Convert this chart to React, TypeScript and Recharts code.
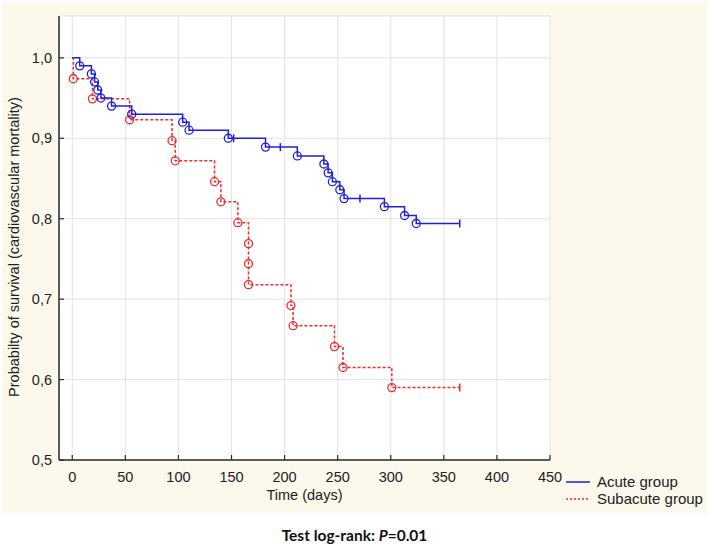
import { CartesianGrid, ComposedChart, Legend, Line, Scatter, XAxis, YAxis } from "recharts";

// Kaplan-Meier estimates
const acuteEventTimes = [7, 18, 21, 24, 27, 37, 56, 104, 110, 147, 182, 212, 237, 241, 245, 252, 256, 294, 313, 324];
const acuteEventSurv = [0.99, 0.98, 0.97, 0.96, 0.95, 0.94, 0.93, 0.92, 0.91, 0.9, 0.889, 0.878, 0.868, 0.857, 0.846, 0.836, 0.825, 0.815, 0.804, 0.794];
const acuteCensorTimes = [152, 196, 271, 365];
const acuteCensorSurv = [0.9, 0.889, 0.825, 0.794];

const subEventTimes = [1, 19, 54, 94, 97, 134, 140, 156, 166, 166, 166, 206, 208, 247, 255, 301];
const subEventSurv = [0.974, 0.949, 0.923, 0.897, 0.872, 0.846, 0.821, 0.795, 0.769, 0.744, 0.718, 0.692, 0.667, 0.641, 0.615, 0.59];
const subCensorTimes = [365];
const subCensorSurv = [0.59];

const xTicks = [0, 50, 100, 150, 200, 250, 300, 350, 400, 450];
const yTicks = [0.5, 0.6, 0.7, 0.8, 0.9, 1.0];

const BLUE = "#1f1fe0";
const RED = "#ee2a2a";
const AXIS = "#2a2a2a";
const FONT = "'Liberation Sans', Arial, sans-serif";

const W = 709;
const H = 546;
const PLOT_LEFT = 59;
const PLOT_TOP = 16;
const PLOT_RIGHT = 550;
const PLOT_BOTTOM = 460;

type Pt = { t: number; s: number };

const zip = (ts: number[], ss: number[]): Pt[] => ts.map((t, i) => ({ t, s: ss[i] }));

const acuteEvents = zip(acuteEventTimes, acuteEventSurv);
const acuteCensored = zip(acuteCensorTimes, acuteCensorSurv);
const subEvents = zip(subEventTimes, subEventSurv);
const subCensored = zip(subCensorTimes, subCensorSurv);

// step curve: start at 1.0, every event, then flat to last follow-up
const stepLine = (events: Pt[], censored: Pt[]): Pt[] => [
  { t: 0, s: 1 },
  ...events,
  censored[censored.length - 1],
];
const acuteLine = stepLine(acuteEvents, acuteCensored);
const subLine = stepLine(subEvents, subCensored);

const fmtY = (v: number) => v.toFixed(1).replace(".", ",");

function BottomTick({ x, y, payload }: any) {
  return (
    <g>
      <line x1={x} x2={x} y1={y} y2={y - 5} stroke={AXIS} strokeWidth={1.2} />
      <text x={x} y={y + 22} textAnchor="middle" fontSize={14.5} fontFamily={FONT} fill="#222">
        {payload.value}
      </text>
    </g>
  );
}

function TopTick({ x, y }: any) {
  return <line x1={x} x2={x} y1={y} y2={y + 5} stroke={AXIS} strokeWidth={1.2} />;
}

function LeftTick({ x, y, payload }: any) {
  return (
    <g>
      <line x1={x} x2={x + 5} y1={y} y2={y} stroke={AXIS} strokeWidth={1.2} />
      <text x={x - 7} y={y + 5} textAnchor="end" fontSize={14.5} fontFamily={FONT} fill="#222">
        {fmtY(payload.value)}
      </text>
    </g>
  );
}

function RightTick({ x, y }: any) {
  return <line x1={x} x2={x - 5} y1={y} y2={y} stroke={AXIS} strokeWidth={1.2} />;
}

function YTitle() {
  const cy = 247;
  return (
    <text
      x={14}
      y={cy}
      transform={`rotate(-90, 14, ${cy})`}
      textAnchor="middle"
      dominantBaseline="central"
      fontSize={14.5}
      fontFamily={FONT}
      fill="#222"
    >
      Probabilty of survival (cardiovascular mortality)
    </text>
  );
}

function XTitle() {
  return (
    <text
      x={(PLOT_LEFT + PLOT_RIGHT) / 2}
      y={500}
      textAnchor="middle"
      fontSize={14.5}
      fontFamily={FONT}
      fill="#222"
    >
      Time (days)
    </text>
  );
}

const openCircle = (color: string) => (props: any) => (
  <circle cx={props.cx} cy={props.cy} r={4} fill="none" stroke={color} strokeWidth={1.3} />
);

const censorMark = (color: string) => (props: any) => (
  <line x1={props.cx} x2={props.cx} y1={props.cy - 4} y2={props.cy + 4} stroke={color} strokeWidth={1.5} />
);

function KMLegend() {
  const row = { display: "flex", alignItems: "center", height: 17 } as const;
  return (
    <div style={{ fontFamily: FONT, fontSize: 15, color: "#222" }}>
      <div style={row}>
        <svg width={24} height={10}>
          <line x1={0} x2={24} y1={5} y2={5} stroke={BLUE} strokeWidth={1.5} />
        </svg>
        <span style={{ marginLeft: 7 }}>Acute group</span>
      </div>
      <div style={row}>
        <svg width={24} height={10}>
          <line x1={0} x2={24} y1={5} y2={5} stroke={RED} strokeWidth={1.5} strokeDasharray="2 2" />
        </svg>
        <span style={{ marginLeft: 7 }}>Subacute group</span>
      </div>
    </div>
  );
}

export default function App() {
  return (
    <div style={{ position: "absolute", left: 0, top: 0, width: W, height: H, background: "#fff" }}>
      <div
        style={{ position: "absolute", left: 2, top: 2, width: 705, height: 511, background: "#fcf8ec" }}
      />
      <div style={{ position: "absolute", left: 0, top: 0 }}>
        <ComposedChart
          width={W}
          height={H}
          margin={{ top: PLOT_TOP, right: W - PLOT_RIGHT, bottom: H - PLOT_BOTTOM - 30, left: 0 }}
        >
          <CartesianGrid stroke="#e3e3e3" fill="#fff" />
          <XAxis
            dataKey="t"
            type="number"
            domain={[-12.5, 450]}
            ticks={xTicks}
            interval={0}
            allowDataOverflow
            height={30}
            tickSize={0}
            tickMargin={0}
            tickLine={false}
            axisLine={{ stroke: AXIS, strokeWidth: 1.5 }}
            tick={<BottomTick />}
            label={<XTitle />}
          />
          <XAxis
            xAxisId="top"
            orientation="top"
            dataKey="t"
            type="number"
            domain={[-12.5, 450]}
            ticks={xTicks}
            interval={0}
            allowDataOverflow
            height={0}
            tickSize={0}
            tickMargin={0}
            tickLine={false}
            axisLine={{ stroke: AXIS, strokeWidth: 1.5 }}
            tick={<TopTick />}
          />
          <YAxis
            dataKey="s"
            type="number"
            domain={[0.5, 1.052]}
            ticks={yTicks}
            interval={0}
            allowDataOverflow
            width={PLOT_LEFT}
            tickSize={0}
            tickMargin={0}
            tickLine={false}
            axisLine={{ stroke: AXIS, strokeWidth: 1.5 }}
            tick={<LeftTick />}
            label={<YTitle />}
          />
          <YAxis
            yAxisId="right"
            orientation="right"
            dataKey="s"
            type="number"
            domain={[0.5, 1.052]}
            ticks={yTicks}
            interval={0}
            allowDataOverflow
            width={0}
            tickSize={0}
            tickMargin={0}
            tickLine={false}
            axisLine={{ stroke: AXIS, strokeWidth: 1.5 }}
            tick={<RightTick />}
          />
          <Line
            data={subLine}
            dataKey="s"
            type="stepAfter"
            stroke={RED}
            strokeWidth={1.5}
            strokeDasharray="3 2"
            dot={false}
            activeDot={false}
            isAnimationActive={false}
            legendType="none"
          />
          <Line
            data={acuteLine}
            dataKey="s"
            type="stepAfter"
            stroke={BLUE}
            strokeWidth={1.5}
            dot={false}
            activeDot={false}
            isAnimationActive={false}
            legendType="none"
          />
          <Scatter data={subEvents} dataKey="s" shape={openCircle(RED)} isAnimationActive={false} />
          <Scatter data={subCensored} dataKey="s" shape={censorMark(RED)} isAnimationActive={false} />
          <Scatter data={acuteEvents} dataKey="s" shape={openCircle(BLUE)} isAnimationActive={false} />
          <Scatter data={acuteCensored} dataKey="s" shape={censorMark(BLUE)} isAnimationActive={false} />
          <Legend
            layout="vertical"
            align="center"
            verticalAlign="middle"
            content={<KMLegend />}
            wrapperStyle={{ left: 566, top: 473, width: 140 }}
          />
        </ComposedChart>
      </div>
      <div
        style={{
          position: "absolute",
          left: 0,
          top: 526,
          width: W,
          textAlign: "center",
          fontFamily: "Lato, sans-serif",
          fontWeight: 700,
          fontSize: 15.5,
          lineHeight: "18px",
          color: "#111",
        }}
      >
        Test log-rank: <i>P</i>=0.01
      </div>
    </div>
  );
}
